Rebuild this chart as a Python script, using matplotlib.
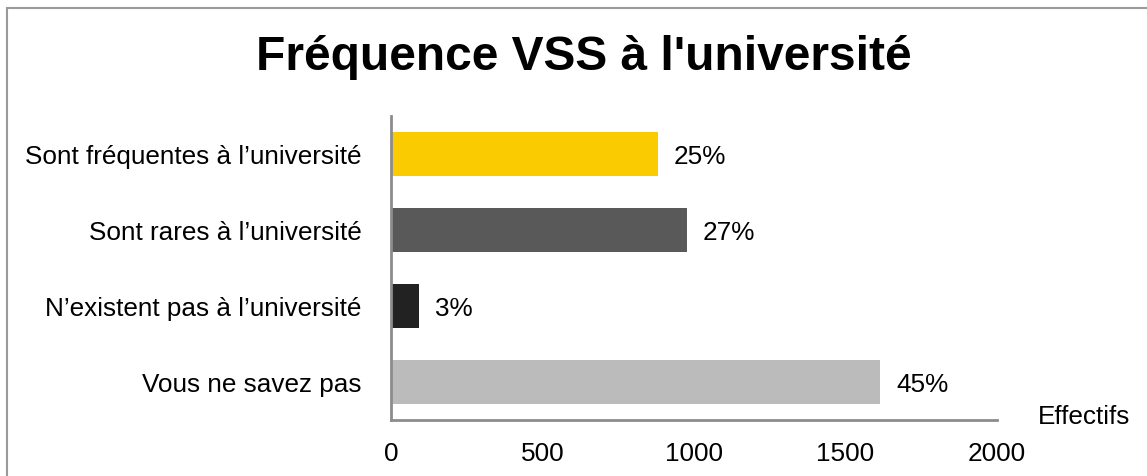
import matplotlib
matplotlib.use("Agg")
import matplotlib.pyplot as plt
from matplotlib.patches import Rectangle

categories = ["Sont fréquentes à l\u2019université", "Sont rares à l\u2019université",
              "N\u2019existent pas à l\u2019université", "Vous ne savez pas"]
values = [881, 976, 92, 1615]
pct_labels = ["25%", "27%", "3%", "45%"]
colors = ["#FACB00", "#595959", "#222222", "#BBBBBB"]
xticks = [0, 500, 1000, 1500, 2000]

plt.rcParams['font.family'] = ['Liberation Sans', 'DejaVu Sans']

W, H = 1147, 477
fig = plt.figure(figsize=(W/100, H/100), dpi=100)
ax = fig.add_axes([391/W, 1-420.7/H, (996.7-391)/W, (420.7-116.7)/H])

FS = 18.8
ypos = list(range(len(categories)))
ax.barh(ypos, values, height=0.575, color=colors)
ax.set_ylim(len(categories)-0.5, -0.5)
ax.set_xlim(0, 2000)
ax.set_yticks(ypos)
ax.set_yticklabels(categories, fontsize=FS)
ax.set_xticks(xticks)
ax.set_xticklabels([str(t) for t in xticks], fontsize=FS)
ax.tick_params(axis='both', length=0, colors='black')
ax.tick_params(axis='y', pad=21)
ax.tick_params(axis='x', pad=15)
for s in ['top', 'right']:
    ax.spines[s].set_visible(False)
for s in ['left', 'bottom']:
    ax.spines[s].set_color('#8C8C8C')
    ax.spines[s].set_linewidth(2)

for y, v, t in zip(ypos, values, pct_labels):
    ax.annotate(t, (v, y), xytext=(11.5, -1.5), textcoords='offset points',
                va='center', ha='left', fontsize=FS)

fig.text(1038/W, 1-417/H, "Effectifs", fontsize=FS, ha='left', va='center')
fig.text(584/W, 1-57/H, "Fréquence VSS à l'université", fontsize=34.5,
         fontweight='bold', ha='center', va='center')

fig.patches.append(Rectangle((7.5/W, -0.1), 1.2, 1-8.5/H+0.1, transform=fig.transFigure,
                             fill=False, edgecolor='#9A9A9A', linewidth=1.5))

fig.savefig("out.png", dpi=100)
